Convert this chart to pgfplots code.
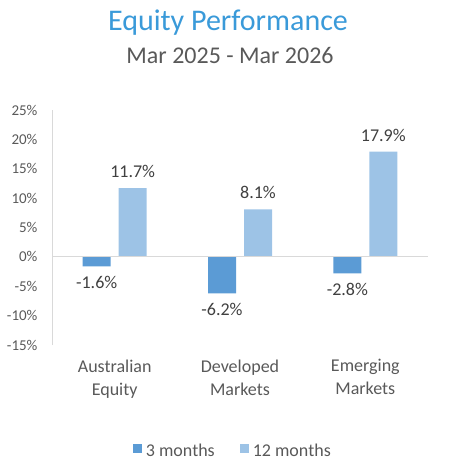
\documentclass[border=0pt]{standalone}
\usepackage{fontspec}
\setmainfont{Carlito}
\usepackage{pgfplots}
\pgfplotsset{compat=1.18}
\definecolor{barA}{HTML}{5B9BD5}
\definecolor{barB}{HTML}{9DC3E6}
\definecolor{titleblue}{HTML}{3A9AD9}
\definecolor{txt}{HTML}{595959}
\definecolor{lbl}{HTML}{404040}
\definecolor{axgray}{HTML}{D9D9D9}
\begin{document}
\begin{tikzpicture}
\path[use as bounding box] (0,0) rectangle (468pt,469pt);
\node[anchor=base, font=\fontsize{30}{36}\selectfont, text=titleblue, inner sep=0] at (228pt,438pt) {Equity Performance};
\node[anchor=base, font=\fontsize{24}{29}\selectfont, text=txt, inner sep=0] at (230pt,405pt) {Mar 2025 - Mar 2026};
\begin{axis}[
 at={(52pt,124pt)}, anchor=south west,
 scale only axis, width=376pt, height=235pt,
 xmin=-0.5, xmax=2.5, ymin=-15, ymax=25,
 enlargelimits=false, clip=false,
 ybar=8pt, bar width=28pt,
 xtick={0,1,2},
 xticklabels={Australian\\Equity, Developed\\Markets, Emerging\\Markets},
 ytick={-15,-10,...,25},
 /pgf/number format/assume math mode=true,
 yticklabel={\pgfmathprintnumber{\tick}\%},
 major tick length=0pt, tick style={draw=none},
 axis x line*=bottom, x axis line style={draw=none},
 axis y line*=left, y axis line style={draw=axgray, line width=1pt},
 yticklabel style={font=\fontsize{15}{18}\selectfont, text=txt, xshift=-11pt},
 xticklabel style={align=center, font=\fontsize{18}{23}\selectfont, text=txt, yshift=-11pt},
 nodes near coords={\pgfmathprintnumber[fixed,fixed zerofill,precision=1]{\pgfplotspointmeta}\%},
 nodes near coords align={vertical},
 every node near coord/.append style={font=\fontsize{18}{22}\selectfont, text=lbl, inner sep=10pt},
 legend columns=2,
 legend style={at={(0.481,-0.451)}, anchor=center, draw=none, fill=none,
   font=\fontsize{18}{22}\selectfont, text=txt,
   /tikz/every odd column/.append style={column sep=2pt},
   /tikz/every even column/.append style={column sep=23pt}},
 legend image code/.code={\fill[#1] (0pt,-2pt) rectangle (9pt,7pt);},
]
\addplot[fill=barA, draw=none] coordinates {(0,-1.6) (1,-6.2) (2,-2.8)};
\addplot[fill=barB, draw=none] coordinates {(0,11.7) (1,8.1) (2,17.9)};
\legend{3 months, 12 months}
\draw[axgray, line width=1pt] (axis cs:-0.5,0) -- (axis cs:2.5,0);
\end{axis}
\end{tikzpicture}
\end{document}
